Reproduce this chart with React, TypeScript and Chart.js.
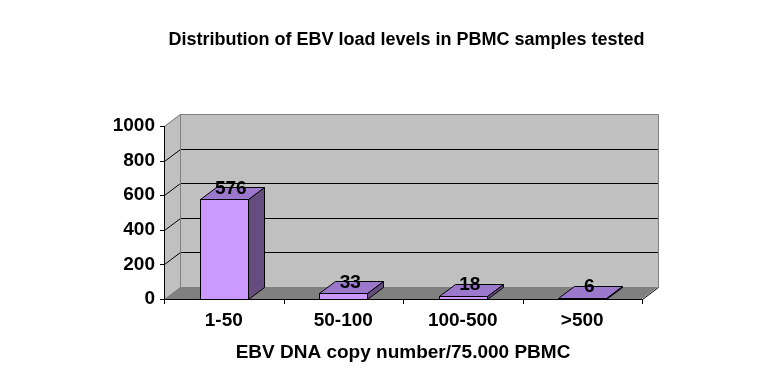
import { useEffect, useRef } from "react";
import { Chart, registerables } from "chart.js";

Chart.register(...registerables);

const categories = ["1-50", "50-100", "100-500", ">500"];
const counts = [576, 33, 18, 6];
const yTicks = [0, 200, 400, 600, 800, 1000];
const chartTitle = "Distribution of EBV load levels in PBMC samples tested";
const xAxisTitle = "EBV DNA copy number/75.000 PBMC";

const DX = 16;
const DY = -12;
const FONT = "'Liberation Sans', Arial, Helvetica, sans-serif";
const WALL = "#C0C0C0";
const FLOOR = "#808080";
const EDGE = "#808080";
const FRONT = "#CC99FF";
const TOP = "#9B78CB";
const SIDE = "#664D80";

const threeD = {
  id: "threeD",
  beforeDatasetsDraw(chart: any) {
    const ctx = chart.ctx as CanvasRenderingContext2D;
    const L = Math.round(chart.chartArea.left);
    const R = Math.round(chart.chartArea.right);
    const T = Math.round(chart.chartArea.top);
    const B = Math.round(chart.chartArea.bottom);
    const ys = chart.scales.y;
    const xs = chart.scales.x;
    ctx.save();
    // side wall
    ctx.fillStyle = WALL;
    ctx.beginPath();
    ctx.moveTo(L, T);
    ctx.lineTo(L + DX, T + DY);
    ctx.lineTo(L + DX, B + DY);
    ctx.lineTo(L, B);
    ctx.closePath();
    ctx.fill();
    // back wall
    ctx.fillRect(L + DX, T + DY, R - L, B - T);
    // floor
    ctx.fillStyle = FLOOR;
    ctx.beginPath();
    ctx.moveTo(L, B);
    ctx.lineTo(R, B);
    ctx.lineTo(R + DX, B + DY);
    ctx.lineTo(L + DX, B + DY);
    ctx.closePath();
    ctx.fill();

    ctx.lineWidth = 1;
    // gridlines
    const maxV = ys.max;
    ys.ticks.forEach((t: any) => {
      if (t.value <= ys.min) return;
      const y = Math.round(ys.getPixelForValue(t.value));
      ctx.strokeStyle = t.value >= maxV ? EDGE : "#000";
      ctx.beginPath();
      ctx.moveTo(L + DX, y + DY + 0.5);
      ctx.lineTo(R + DX, y + DY + 0.5);
      ctx.stroke();
      ctx.beginPath();
      ctx.moveTo(L + 0.5, y + 0.5);
      ctx.lineTo(L + DX + 0.5, y + DY + 0.5);
      ctx.stroke();
    });
    // wall edges
    ctx.strokeStyle = EDGE;
    ctx.beginPath();
    ctx.moveTo(L + DX + 0.5, B + DY);
    ctx.lineTo(L + DX + 0.5, T + DY + 0.5);
    ctx.lineTo(R + DX + 0.5, T + DY + 0.5);
    ctx.lineTo(R + DX + 0.5, B + DY + 0.5);
    ctx.stroke();
    // floor right edge
    ctx.strokeStyle = "#000";
    ctx.beginPath();
    ctx.moveTo(R + 0.5, B + 0.5);
    ctx.lineTo(R + DX + 0.5, B + DY + 0.5);
    ctx.stroke();
    // y axis
    ctx.beginPath();
    ctx.moveTo(L + 0.5, T);
    ctx.lineTo(L + 0.5, B + 1);
    ctx.stroke();
    ys.ticks.forEach((t: any) => {
      const y = Math.round(ys.getPixelForValue(t.value)) + 0.5;
      ctx.beginPath();
      ctx.moveTo(L - 4, y);
      ctx.lineTo(L + 1, y);
      ctx.stroke();
    });
    // x axis
    ctx.beginPath();
    ctx.moveTo(L, B + 0.5);
    ctx.lineTo(R + 1, B + 0.5);
    ctx.stroke();
    const n = categories.length;
    const step = xs.getPixelForValue(1) - xs.getPixelForValue(0);
    for (let i = 0; i <= n; i++) {
      const px = i < n ? xs.getPixelForValue(i) - step / 2 : R;
      const x = Math.round(px) + 0.5;
      ctx.beginPath();
      ctx.moveTo(x, B);
      ctx.lineTo(x, B + 5);
      ctx.stroke();
    }
    ctx.restore();
  },
  afterDatasetsDraw(chart: any) {
    const ctx = chart.ctx as CanvasRenderingContext2D;
    const meta = chart.getDatasetMeta(0);
    ctx.save();
    ctx.lineWidth = 1;
    ctx.strokeStyle = "#000";
    meta.data.forEach((el: any, i: number) => {
      const x0 = Math.round(el.x - el.width / 2) + 0.5;
      const x1 = Math.round(el.x + el.width / 2) + 0.5;
      const yt = Math.round(el.y) + 0.5;
      const yb = Math.round(el.base) + 0.5;
      // side
      ctx.fillStyle = SIDE;
      ctx.beginPath();
      ctx.moveTo(x1, yt);
      ctx.lineTo(x1 + DX, yt + DY);
      ctx.lineTo(x1 + DX, yb + DY);
      ctx.lineTo(x1, yb);
      ctx.closePath();
      ctx.fill();
      ctx.stroke();
      // top
      ctx.fillStyle = TOP;
      ctx.beginPath();
      ctx.moveTo(x0, yt);
      ctx.lineTo(x1, yt);
      ctx.lineTo(x1 + DX, yt + DY);
      ctx.lineTo(x0 + DX, yt + DY);
      ctx.closePath();
      ctx.fill();
      ctx.stroke();
      // front
      ctx.fillStyle = FRONT;
      ctx.fillRect(x0, yt, x1 - x0, yb - yt);
      ctx.strokeRect(x0, yt, x1 - x0, yb - yt);
      // label
      ctx.fillStyle = "#000";
      ctx.font = `bold 19px ${FONT}`;
      ctx.textAlign = "center";
      ctx.textBaseline = "middle";
      ctx.fillText(String(counts[i]), el.x + DX / 2 - 1, el.y + DY + 1);
    });
    ctx.restore();
  },
};

export default function App() {
  const ref = useRef<HTMLCanvasElement>(null);
  useEffect(() => {
    document.body.style.margin = "0";
    const chart = new Chart(ref.current!, {
      type: "bar",
      data: {
        labels: categories,
        datasets: [
          {
            data: counts,
            backgroundColor: "rgba(0,0,0,0)",
            borderWidth: 0,
            barPercentage: 0.4,
            categoryPercentage: 1,
          },
        ],
      },
      options: {
        responsive: false,
        animation: false,
        devicePixelRatio: 1,
        layout: { padding: { left: 56, right: 0, top: 0, bottom: 0 } },
        plugins: {
          legend: { display: false },
          tooltip: { enabled: false },
          title: {
            display: true,
            text: chartTitle,
            color: "#000",
            font: { family: FONT, size: 18, weight: "bold" },
            padding: { top: 29.7, bottom: 74.7 },
          },
        },
        scales: {
          x: {
            z: 1,
            grid: { display: false, drawTicks: false },
            border: { display: false },
            ticks: {
              color: "#000",
              padding: 10,
              font: { family: FONT, size: 19, weight: "bold" },
            },
            title: {
              display: true,
              text: xAxisTitle,
              color: "#000",
              font: { family: FONT, size: 19, weight: "bold" },
              padding: { top: 0, bottom: 28 },
            },
            afterFit: (s: any) => {
              s.height = 93;
            },
          },
          y: {
            z: 1,
            min: yTicks[0],
            max: yTicks[yTicks.length - 1],
            grid: { display: false, drawTicks: false },
            border: { display: false },
            ticks: {
              stepSize: yTicks[1] - yTicks[0],
              color: "#000",
              padding: 9,
              font: { family: FONT, size: 19, weight: "bold" },
              callback: (v: any) => String(v),
            },
            afterFit: (s: any) => {
              s.width = 108;
            },
          },
          y2: {
            type: "linear",
            position: "right",
            display: true,
            grid: { display: false, drawTicks: false },
            border: { display: false },
            ticks: { display: false },
            afterFit: (s: any) => {
              s.width = 115;
            },
          },
        },
      } as any,
      plugins: [threeD],
    });
    return () => chart.destroy();
  }, []);
  return (
    <div style={{ width: 757, height: 392 }}>
      <canvas ref={ref} width={757} height={392} style={{ display: "block" }} />
    </div>
  );
}
